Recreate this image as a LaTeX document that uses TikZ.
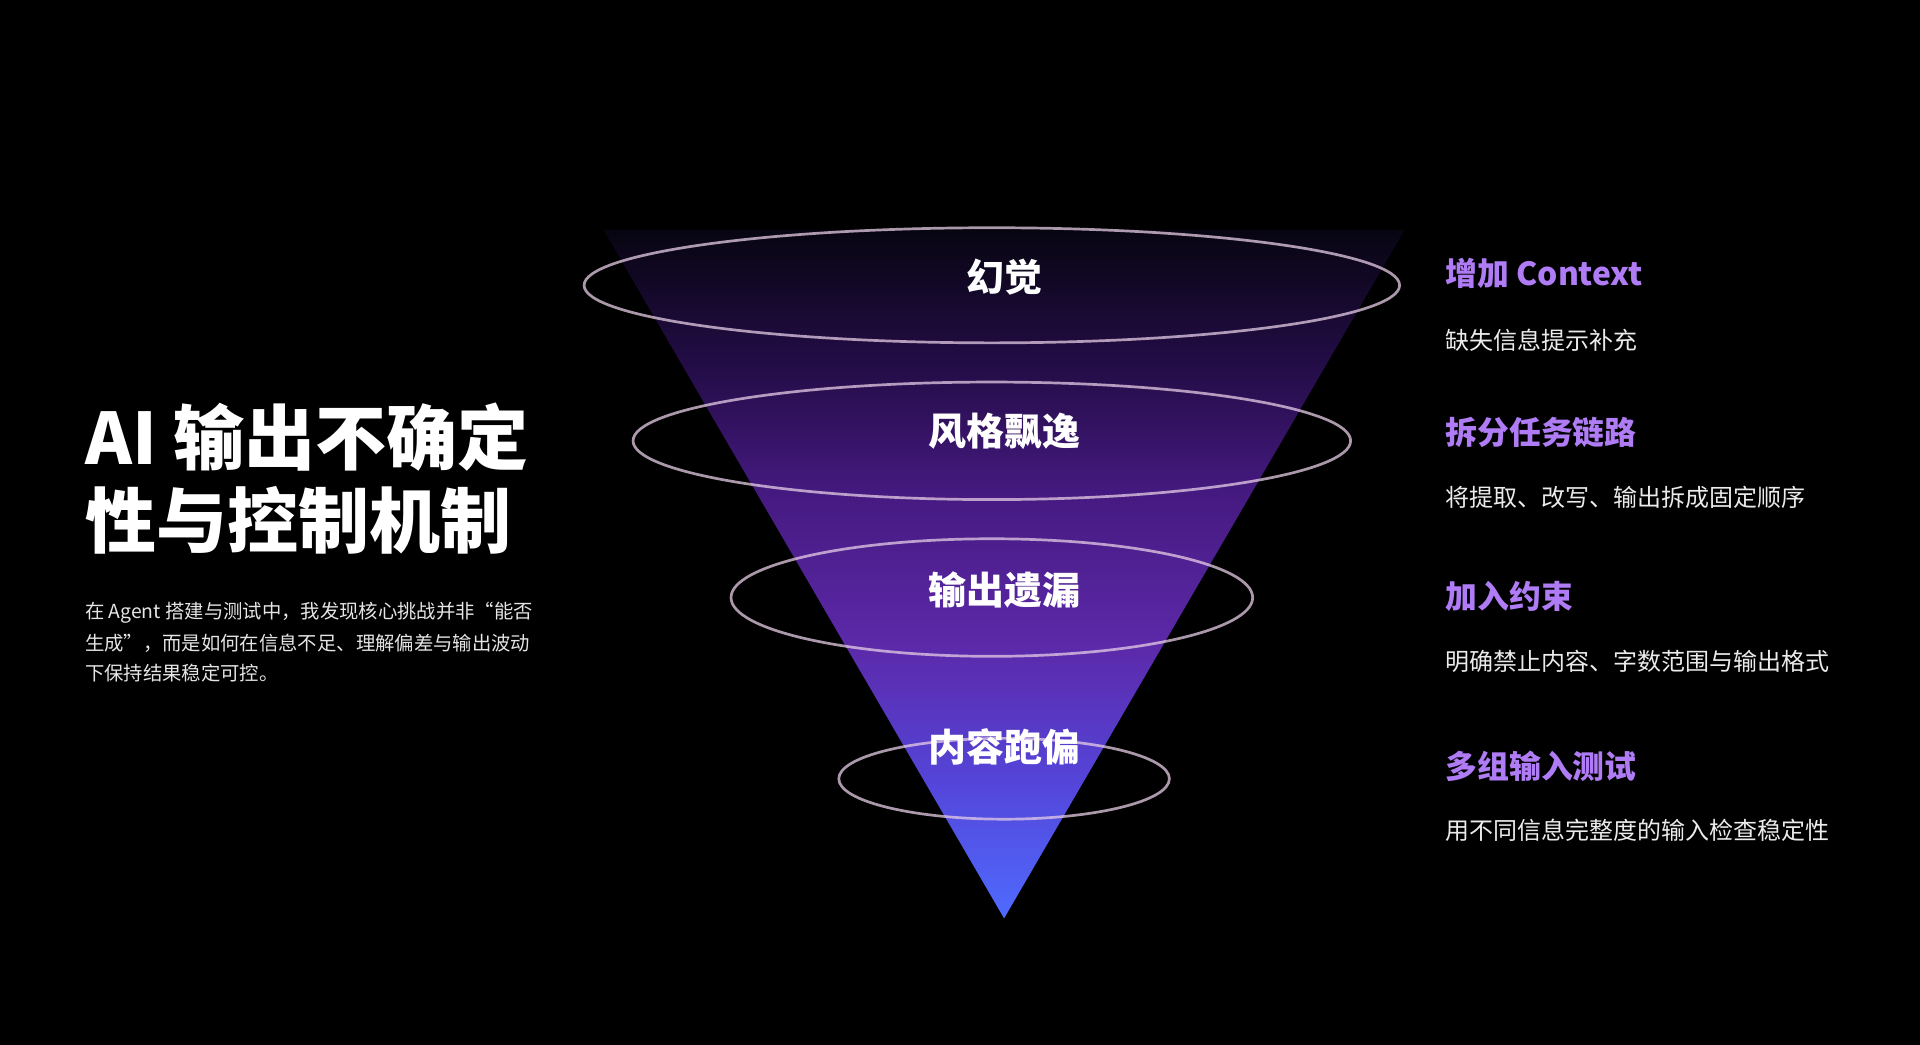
\documentclass[tikz,border=0pt]{standalone}
\usepackage{fontspec}
\setmainfont{Noto Sans CJK SC}
\pgfdeclareverticalshading{funnel}{100bp}{
  rgb(0bp)=(0.31,0.42,1.0);
  rgb(25bp)=(0.31,0.42,1.0);
  rgb(35bp)=(0.33,0.27,0.85);
  rgb(45bp)=(0.36,0.16,0.66);
  rgb(56bp)=(0.27,0.10,0.50);
  rgb(65bp)=(0.14,0.05,0.28);
  rgb(75bp)=(0.03,0.02,0.07);
  rgb(100bp)=(0.03,0.02,0.07)}
\begin{document}
\begin{tikzpicture}[x=1pt,y=-1pt,
  ell/.style={draw=white!80!violet, line width=2.2pt, draw opacity=0.75},
  lab/.style={text=white,font=\bfseries\fontsize{31}{34}\selectfont},
  head/.style={anchor=west,text={rgb,255:red,176;green,124;blue,245},font=\bfseries\fontsize{26}{30}\selectfont},
  desc/.style={anchor=west,text=white!92!black,font=\fontsize{19.6}{23}\selectfont},
  para/.style={anchor=west,text=white!90!black,font=\fontsize{15.8}{19}\selectfont}]
\fill[black] (0,0) rectangle (1568,853);
\useasboundingbox (0,0) rectangle (1568,853);
\shade[shading=funnel] (493,188) -- (1147,188) -- (820,750) -- cycle;
\draw[ell] (810,233) ellipse [x radius=333, y radius=47];
\draw[ell] (810,360) ellipse [x radius=293, y radius=48];
\draw[ell] (810,488) ellipse [x radius=213, y radius=48];
\draw[ell] (820,636) ellipse [x radius=135, y radius=33];
\node[lab] (l1) at (820,226) {幻觉};
\node[lab] (l2) at (820,352) {风格飘逸};
\node[lab] (l3) at (820,482) {输出遗漏};
\node[lab] (l4) at (820,610) {内容跑偏};
\node[anchor=west,text=white,font=\bfseries\fontsize{58}{60}\selectfont] (t1) at (66,357) {AI 输出不确定};
\node[anchor=west,text=white,font=\bfseries\fontsize{58}{60}\selectfont] (t2) at (66,425) {性与控制机制};
\node[para] (p1) at (66,500) {在 Agent 搭建与测试中，我发现核心挑战并非“能否};
\node[para] (p2) at (66,525) {生成”，而是如何在信息不足、理解偏差与输出波动};
\node[para] (p3) at (66,550) {下保持结果稳定可控。};
\node[head] (h1) at (1177,223) {增加 Context};
\node[desc] (d1) at (1177,278) {缺失信息提示补充};
\node[head] (h2) at (1177,353) {拆分任务链路};
\node[desc] (d2) at (1177,406) {将提取、改写、输出拆成固定顺序};
\node[head] (h3) at (1177,487) {加入约束};
\node[desc] (d3) at (1177,540) {明确禁止内容、字数范围与输出格式};
\node[head] (h4) at (1177,626) {多组输入测试};
\node[desc] (d4) at (1177,678) {用不同信息完整度的输入检查稳定性};
\end{tikzpicture}
\end{document}
